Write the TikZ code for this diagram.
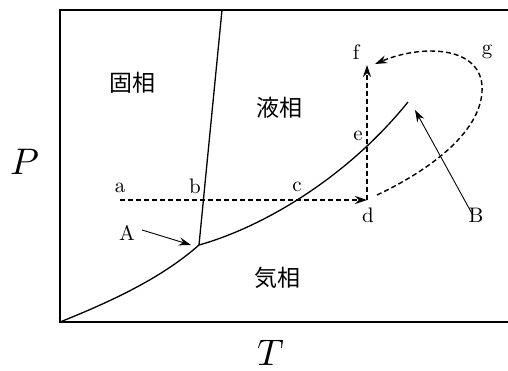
\documentclass[tikz,border=0pt]{standalone}
\usepackage{fontspec}
\usepackage{unicode-math}
\setmathfont{Latin Modern Math}
\newfontfamily\jpfont{Noto Sans CJK JP}
\newfontfamily\lblfont{lmroman10-regular.otf}
\usetikzlibrary{arrows.meta}
\begin{document}
\begin{tikzpicture}[x=1pt,y=-1pt,
  lbl/.style={font=\lblfont\fontsize{21}{21}\selectfont, inner sep=0pt},
  phase/.style={font=\jpfont\fontsize{23}{23}\selectfont, inner sep=0pt},
  axis/.style={font=\fontsize{37}{37}\selectfont, inner sep=0pt},
  frame/.style={line width=1.5pt},
  curve/.style={line width=1.3pt},
  dsh/.style={line width=1.4pt, dash pattern=on 5pt off 3pt},
  tip/.style={-{Stealth[length=12pt,width=8pt]}},
  thin arrow/.style={line width=0.9pt, -{Stealth[length=12pt,width=8pt]}}]
\useasboundingbox (0,0) rectangle (508,370);
% frame
\coordinate (ftr) at (508,10);
\coordinate (ftl) at (60,10);
\coordinate (fbl) at (60,322);
\coordinate (fbr) at (508,322);
\draw[frame] (ftr) -- (ftl) -- (fbl) -- (fbr);
% key points
\coordinate (tp) at (199,245);
\coordinate (cp) at (408,102);
\coordinate (mtop) at (222,10);
\coordinate (pa) at (120,200);
\coordinate (pd) at (367,200);
\coordinate (pf) at (367,65);
\coordinate (gs) at (377,195);
\coordinate (gm) at (482,85);
\coordinate (ge) at (375,64);
\coordinate (btip) at (415,110);
% phase boundaries
\draw[curve] (fbl) .. controls (120,298) and (165,275) .. (tp);
\draw[curve] (tp) -- (mtop);
\draw[curve] (tp) .. controls (260,228) and (345,180) .. (cp);
% paths
\draw[dsh, tip] (pa) -- (pd);
\draw[dsh, tip] (pd) -- (pf);
\draw[dsh, tip] (gs) .. controls (430,170) and (485,130) .. (gm)
   .. controls (478,45) and (420,45) .. (ge);
% labels
\node[lbl] (la) at (120,188) {a};
\node[lbl] (lb) at (195,186) {b};
\node[lbl] (lc) at (297,187) {c};
\node[lbl] (ld) at (368,215) {d};
\node[lbl] (le) at (358,136) {e};
\node[lbl] (lf) at (356,52) {f};
\node[lbl] (lg) at (487,52) {g};
\node[lbl] (lA) at (127,233) {A};
\node[lbl] (lB) at (476,215) {B};
\draw[thin arrow] (lA.east) ++(7pt,3pt) coordinate (as) (as) -- (191,245);
\draw[thin arrow] (lB.north) ++(-4pt,-6pt) coordinate (bs) (bs) -- (btip);
% phases
\node[phase] (solid) at (132,83) {固相};
\node[phase] (liquid) at (279,108) {液相};
\node[phase] (gas) at (277,278) {気相};
% axes
\node[axis] (P) at (25,162) {$P$};
\node[axis, anchor=north] (T) at (271,340) {$T$};
\end{tikzpicture}
\end{document}
